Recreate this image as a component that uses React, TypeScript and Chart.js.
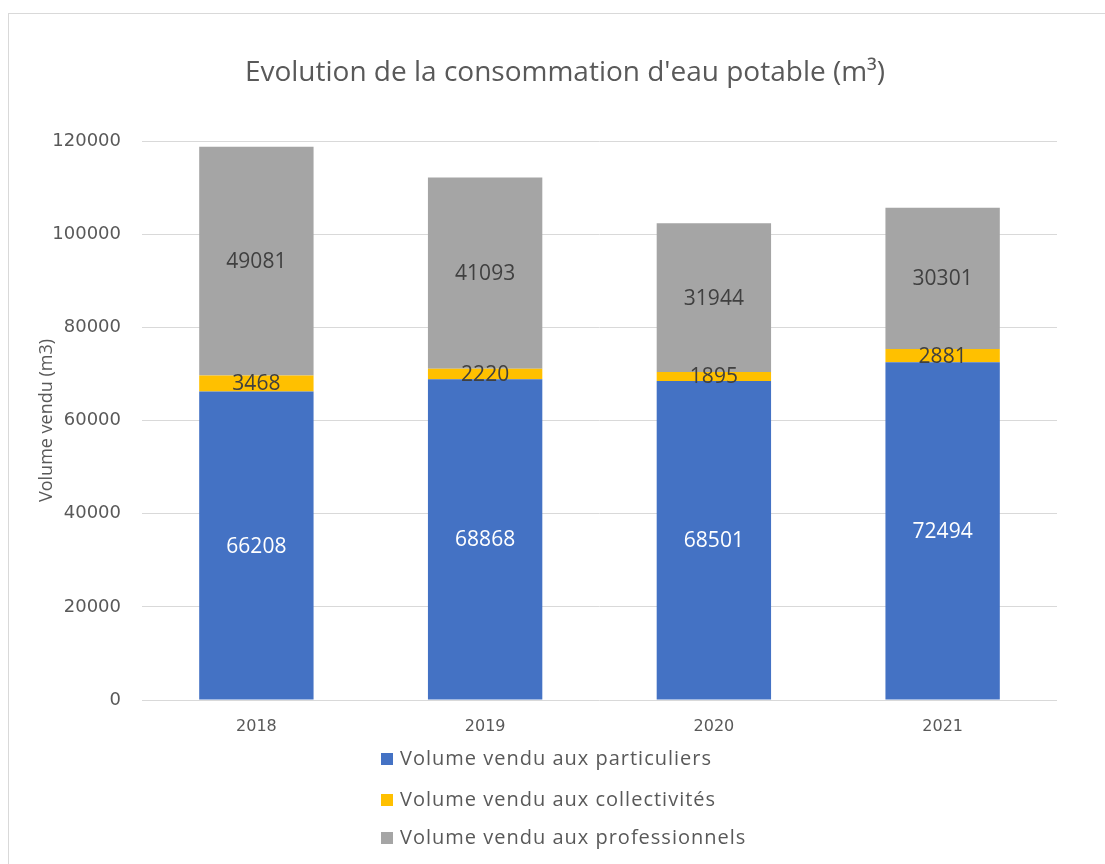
import React, { useEffect, useRef } from "react";
import { Chart, registerables } from "chart.js";

Chart.register(...registerables);

const categories = ["2018", "2019", "2020", "2021"];
const particuliers = [66208, 68868, 68501, 72494];
const collectivites = [3468, 2220, 1895, 2881];
const professionnels = [49081, 41093, 31944, 30301];
const seriesNames = [
  "Volume vendu aux particuliers",
  "Volume vendu aux collectivités",
  "Volume vendu aux professionnels",
];
const seriesColors = ["#4472C4", "#FFC000", "#A5A5A5"];
const labelColors = ["#FFFFFF", "#404040", "#404040"];
const chartTitle = "Evolution de la consommation d'eau potable (m³)";
const yAxisTitle = "Volume vendu (m3)";
const yMin = 0;
const yMax = 120000;
const yStep = 20000;

const FONT = '"Open Sans", "Noto Sans", sans-serif';
const TICK_FONT = '"DejaVu Sans", "Open Sans", sans-serif';
const TEXT = "#595959";

export default function App() {
  const ref = useRef<HTMLCanvasElement>(null);

  useEffect(() => {
    const canvas = ref.current;
    if (!canvas) return;

    const overlay = {
      id: "overlay",
      beforeDraw(chart: any) {
        const ctx = chart.ctx;
        ctx.save();
        ctx.strokeStyle = "#d9d9d9";
        ctx.lineWidth = 1;
        ctx.strokeRect(8.5, 13.5, 1200, 1000);
        ctx.restore();
      },
      afterDatasetsDraw(chart: any) {
        const ctx = chart.ctx;
        ctx.save();
        ctx.font = `21px ${FONT}`;
        ctx.textAlign = "center";
        ctx.textBaseline = "middle";
        chart.data.datasets.forEach((ds: any, i: number) => {
          const meta = chart.getDatasetMeta(i);
          meta.data.forEach((el: any, j: number) => {
            const p = el.getProps(["x", "y", "base"], true);
            ctx.fillStyle = labelColors[i];
            ctx.fillText(String(ds.data[j]), p.x, (p.y + p.base) / 2 + 1);
          });
        });
        ctx.restore();
      },
      afterDraw(chart: any) {
        const ctx = chart.ctx;
        ctx.save();
        // title
        ctx.font = `28px ${FONT}`;
        ctx.fillStyle = TEXT;
        ctx.textAlign = "center";
        ctx.textBaseline = "alphabetic";
        ctx.fillText(chartTitle, 565, 81);
        // legend
        ctx.font = `20px ${FONT}`;
        try {
          (ctx as any).letterSpacing = "1px";
        } catch (e) {}
        ctx.textAlign = "left";
        ctx.textBaseline = "middle";
        const rows = [759, 800, 838];
        chart.data.datasets.forEach((ds: any, i: number) => {
          const y = rows[i];
          ctx.fillStyle = ds.backgroundColor;
          ctx.fillRect(381, y - 6, 12, 12);
          ctx.fillStyle = TEXT;
          ctx.fillText(ds.label, 400, y);
        });
        ctx.restore();
      },
    };

    const chart = new Chart(canvas, {
      type: "bar",
      data: {
        labels: categories,
        datasets: [
          { label: seriesNames[0], data: particuliers, backgroundColor: seriesColors[0] },
          { label: seriesNames[1], data: collectivites, backgroundColor: seriesColors[1] },
          { label: seriesNames[2], data: professionnels, backgroundColor: seriesColors[2] },
        ],
      },
      options: {
        responsive: false,
        animation: false,
        devicePixelRatio: 1,
        layout: { padding: { top: 141, right: 48, left: 0, bottom: 0 } },
        datasets: { bar: { categoryPercentage: 1, barPercentage: 0.5 } },
        plugins: {
          legend: { display: false },
          title: { display: false },
          tooltip: { enabled: false },
        },
        scales: {
          x: {
            stacked: true,
            grid: { display: false, drawTicks: false },
            border: { display: false },
            ticks: { color: TEXT, font: { family: TICK_FONT, size: 16 }, padding: 17 },
            afterFit(scale: any) {
              scale.height = 164;
            },
          },
          y: {
            stacked: true,
            min: yMin,
            max: yMax,
            grid: { color: "#d9d9d9", lineWidth: 1, drawTicks: false },
            border: { display: false },
            ticks: {
              stepSize: yStep,
              color: TEXT,
              font: { family: TICK_FONT, size: 18 },
              padding: 21,
              callback: (v: any) => String(v),
            },
            title: {
              display: true,
              text: yAxisTitle,
              color: TEXT,
              font: { family: FONT, size: 18 },
              padding: { top: 36, bottom: 0 },
            },
            afterFit(scale: any) {
              scale.width = 142;
            },
          },
        },
      },
      plugins: [overlay],
    } as any);

    return () => chart.destroy();
  }, []);

  return (
    <div style={{ position: "fixed", left: 0, top: 0, width: 1105, height: 864, background: "#ffffff" }}>
      <canvas ref={ref} width={1105} height={864} style={{ display: "block" }} />
    </div>
  );
}
